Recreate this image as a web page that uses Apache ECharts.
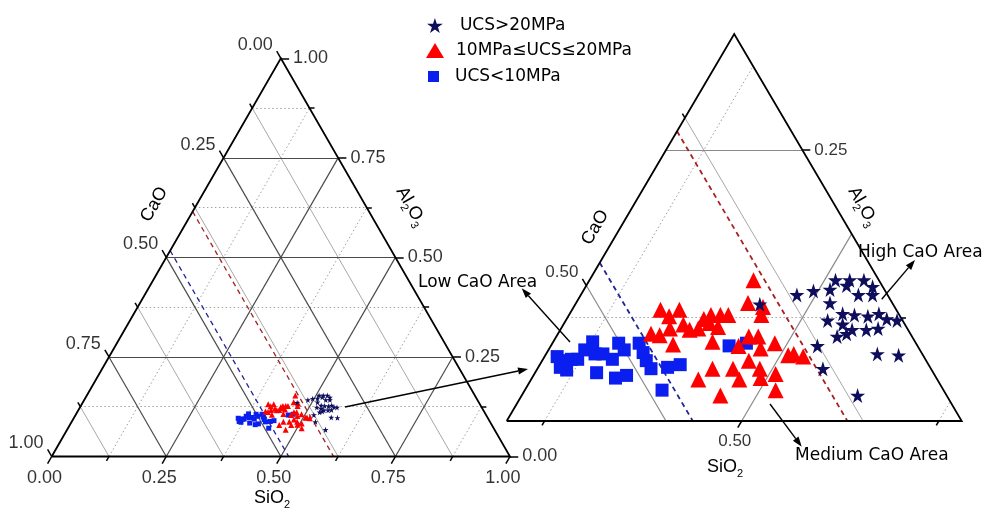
<!DOCTYPE html>
<html>
<head>
<meta charset="utf-8">
<script src="https://cdn.jsdelivr.net/npm/echarts@6/dist/echarts.min.js"></script>
<style>
html, body { margin: 0; padding: 0; background: #fff; }
#chart { width: 987px; height: 514px; }
</style>
</head>
<body>
<div id="chart"></div>
<script>
// compositions as [SiO2 %, Al2O3 %], CaO = 100 - SiO2 - Al2O3
const seriesNames = ['UCS>20MPa', '10MPa≤UCS≤20MPa', 'UCS<10MPa'];
const ucsHigh = [[46.8, 13.5], [48.8, 14.2], [49.7, 14.5], [50.7, 14.6], [50.7, 15.3], [51.6, 15.3],
    [52.5, 15.3], [52.7, 14.2], [53.6, 14.2], [51.2, 13.6], [51.6, 14.9], [51.7, 12.3], [52.8, 12.0],
    [53.2, 12.7], [54.1, 12.6], [54.7, 12.8], [55.4, 12.4], [56.1, 12.3], [53.4, 11.3], [53.6, 11.6],
    [52.9, 11.1], [54.5, 11.6], [55.2, 11.7], [52.4, 12.8], [52.0, 10.4], [53.2, 8.7], [56.1, 9.8],
    [57.5, 9.7], [56.4, 6.7], [53.3, 14.8]];
const ucsMid = [[40.7, 13.1], [41.5, 12.6], [41.9, 13.1], [42.7, 12.0], [43.3, 11.6], [43.8, 11.7],
    [42.0, 11.7], [41.6, 11.2], [42.8, 10.5], [44.1, 12.7], [44.7, 12.7], [45.2, 12.7], [44.3, 12.1],
    [45.0, 11.8], [43.8, 12.4], [45.2, 10.7], [47.0, 10.4], [47.3, 11.1], [47.9, 11.1], [49.2, 10.6],
    [48.5, 10.2], [48.2, 9.3], [47.5, 8.7], [46.2, 8.7], [49.2, 8.7], [50.4, 8.3], [45.7, 7.9],
    [48.3, 7.9], [49.6, 8.0], [51.0, 7.1], [47.7, 6.7], [45.5, 15.3], [46.0, 13.6], [47.1, 13.3],
    [47.3, 12.7], [50.5, 9.7], [50.8, 9.8], [51.5, 9.6], [41.0, 11.3]];
const ucsLow = [[35.9, 9.6], [36.4, 9.3], [36.5, 8.8], [37.0, 8.6], [37.3, 9.4], [37.4, 10.1],
    [37.6, 10.7], [38.2, 9.8], [38.7, 9.8], [39.5, 9.4], [39.3, 10.6], [39.9, 10.1], [39.0, 8.4],
    [40.4, 8.0], [41.0, 8.2], [40.6, 10.6], [41.2, 9.9], [41.7, 9.3], [42.3, 8.7], [43.8, 7.1],
    [43.3, 8.8], [44.0, 9.0], [46.4, 10.4], [47.4, 10.6], [36.9, 9.4]];
// ternary ticks, labelled every 0.25
const tickValues = [0, 0.125, 0.25, 0.375, 0.5, 0.625, 0.75, 0.875, 1];
// CaO levels of the dashed boundaries (blue: low/medium, red: medium/high)
const cutLow = 0.483;
const cutHigh = 0.385;

const H = Math.sqrt(3) / 2;
const STAR = 'path://M50,2L61.2,36.3L97.6,36.3L68.2,57.7L79.4,92.3L50,70.9L20.6,92.3L31.8,57.7L2.4,36.3L38.8,36.3Z';
const tickFont = '"Liberation Sans", Arial, sans-serif';
const textFont = '"DejaVu Sans", sans-serif';
const colors = ['#0e0e5c', '#ff0000', '#0a1ef0'];

// whole diagram and the zoomed part (SiO2 >= s0, Al2O3 >= a0, CaO >= c0)
const mainBox = { s0: 0, a0: 0, c0: 0, side: 1 };
const zoomBox = { s0: 0.351, a0: 0.048, c0: 0.3125, side: 0.2885 };

// ternary (SiO2, Al2O3) -> plane, SiO2 to the right, Al2O3 at the top
function xy(si, al) {
    return [si + al / 2, al * H];
}

function isMajor(v) {
    return Math.abs(v * 4 - Math.round(v * 4)) < 1e-9;
}

function inside(v, lo, side) {
    return v > lo + 1e-9 && v < lo + side - 1e-9;
}

function onEdge(v, lo, side) {
    return v >= lo - 1e-9 && v <= lo + side + 1e-9;
}

function buildGrid(b) {
    const major = [], minorSolid = [], minorDot = [];
    tickValues.forEach(v => {
        if (inside(v, b.a0, b.side)) {
            (isMajor(v) ? major : minorDot).push({ coords: [xy(b.s0, v), xy(1 - v - b.c0, v)] });
        }
        if (inside(v, b.c0, b.side)) {
            (isMajor(v) ? major : minorSolid).push({ coords: [xy(b.s0, 1 - v - b.s0), xy(1 - v - b.a0, b.a0)] });
        }
        if (inside(v, b.s0, b.side)) {
            (isMajor(v) ? major : minorDot).push({ coords: [xy(v, b.a0), xy(v, 1 - v - b.c0)] });
        }
    });
    return { major, minorSolid, minorDot };
}

function buildTicks(b, dMaj, dMin) {
    const ticks = [], left = [], right = [], bottom = [];
    tickValues.forEach(v => {
        const d = isMajor(v) ? dMaj : dMin;
        const name = v.toFixed(2);
        if (onEdge(v, b.c0, b.side)) {
            const al = 1 - b.s0 - v;
            const e = xy(b.s0 - d, al + d);
            ticks.push({ coords: [xy(b.s0, al), e] });
            if (isMajor(v)) left.push({ value: e, name });
        }
        if (onEdge(v, b.a0, b.side)) {
            const si = 1 - b.c0 - v;
            const e = xy(si + d, v);
            ticks.push({ coords: [xy(si, v), e] });
            if (isMajor(v)) right.push({ value: e, name });
        }
        if (onEdge(v, b.s0, b.side)) {
            const e = xy(v, b.a0 - d);
            ticks.push({ coords: [xy(v, b.a0), e] });
            if (isMajor(v)) bottom.push({ value: e, name });
        }
    });
    return { ticks, left, right, bottom };
}

function cutLine(b, ca) {
    return { coords: [xy(b.s0, 1 - ca - b.s0), xy(1 - ca - b.a0, b.a0)] };
}

function linesSeries(i, data, style, z) {
    return {
        type: 'lines', coordinateSystem: 'cartesian2d', xAxisIndex: i, yAxisIndex: i, clip: false,
        silent: true, z: z, data: data, lineStyle: Object.assign({ opacity: 1, curveness: 0 }, style)
    };
}

function labelSeries(i, data, position, offset, size) {
    return {
        type: 'scatter', xAxisIndex: i, yAxisIndex: i, symbolSize: 0, silent: true, z: 6, clip: false, data: data,
        label: {
            show: true, position: position, distance: 4, offset: offset, formatter: '{b}',
            color: '#000', fontSize: size, fontFamily: tickFont
        }
    };
}

function pointSeries(i, k, arr, size) {
    const symbols = [STAR, 'triangle', 'rect'];
    return {
        type: 'scatter', name: seriesNames[k], xAxisIndex: i, yAxisIndex: i, clip: false,
        symbol: symbols[k], symbolSize: size, z: 10 + (2 - k),
        itemStyle: { color: colors[k], opacity: 1 },
        data: arr.map(p => xy(p[0] / 100, p[1] / 100))
    };
}

function panel(i, b, opt) {
    const g = buildGrid(b);
    const t = buildTicks(b, opt.dMaj, opt.dMin);
    const frame = [{ coords: [xy(b.s0, b.a0), xy(b.s0 + b.side, b.a0), xy(b.s0, b.a0 + b.side), xy(b.s0, b.a0)] }];
    const out = [
        linesSeries(i, g.minorDot, { color: '#a0a0a0', width: 1, type: [1.5, 2.5] }, 1),
        linesSeries(i, g.minorSolid, { color: '#a8a8a8', width: 1 }, 1),
        linesSeries(i, g.major, { color: opt.majorColor, width: 1.2 }, 2),
        linesSeries(i, [cutLine(b, cutLow)], { color: '#23239a', width: opt.dashW, type: [5, 4] }, 3),
        linesSeries(i, [cutLine(b, cutHigh)], { color: '#a82020', width: opt.dashW, type: [5, 4] }, 3),
        Object.assign(linesSeries(i, frame, { color: '#000', width: 1.8 }, 4), { polyline: true }),
        linesSeries(i, t.ticks, { color: '#000', width: 1.5 }, 4),
        labelSeries(i, t.left, 'left', [0, -6], opt.font),
        labelSeries(i, t.right, 'right', [0, 0], opt.font),
        labelSeries(i, t.bottom, 'bottom', [-3, 1], opt.font)
    ];
    out.push(pointSeries(i, 2, ucsLow, opt.sizes[2]));
    out.push(pointSeries(i, 1, ucsMid, opt.sizes[1]));
    out.push(pointSeries(i, 0, ucsHigh, opt.sizes[0]));
    return out;
}

function arrow(x1, y1, x2, y2) {
    const a = Math.atan2(y2 - y1, x2 - x1), L = 10, W = 3.5;
    const bx = x2 - L * Math.cos(a), by = y2 - L * Math.sin(a);
    return [
        { type: 'line', z: 100, shape: { x1: x1, y1: y1, x2: bx, y2: by }, style: { stroke: '#000', lineWidth: 1.4 } },
        {
            type: 'polygon', z: 100,
            shape: { points: [[x2, y2], [bx - W * Math.sin(a), by + W * Math.cos(a)], [bx + W * Math.sin(a), by - W * Math.cos(a)]] },
            style: { fill: '#000' }
        }
    ];
}

function note(x, y, text) {
    return {
        type: 'text', x: x, y: y, z: 100,
        style: { text: text, font: '17px ' + textFont, fill: '#000', align: 'left', verticalAlign: 'middle' }
    };
}

const richTitle = {
    n: { fontSize: 18, fontFamily: tickFont, lineHeight: 20, verticalAlign: 'top', fill: '#000' },
    s: { fontSize: 11, fontFamily: tickFont, lineHeight: 12, padding: [10, 0, 0, 0], verticalAlign: 'top', fill: '#000' }
};

function title(x, y, text, rot) {
    return {
        type: 'text', x: x, y: y, rotation: rot, z: 100,
        style: { text: text, rich: richTitle, align: 'center', verticalAlign: 'middle' }
    };
}

const chart = echarts.init(document.getElementById('chart'));

const series = [].concat(
    panel(0, mainBox, { dMaj: 0.018, dMin: 0.011, font: 18, majorColor: '#4a4a4a', dashW: 1.3, sizes: [6, 6, 5] }),
    panel(1, zoomBox, { dMaj: 0.005, dMin: 0.0032, font: 17, majorColor: '#8a8a8a', dashW: 1.8, sizes: [15, 16, 13] })
);

function legendAt(k, left, top, w, h, icon, pad) {
    return {
        orient: 'vertical', left: left, top: top, itemWidth: w, itemHeight: h, selectedMode: false,
        data: [{ name: seriesNames[k], icon: icon }],
        textStyle: { fontSize: 17, fontFamily: textFont, color: '#000', padding: [0, 0, 0, pad] }
    };
}

chart.setOption({
    animation: false,
    backgroundColor: '#fff',
    legend: [
        legendAt(0, 422, 12, 16, 15, STAR, 12),
        legendAt(1, 421, 37, 18, 15, 'triangle', 7),
        legendAt(2, 423, 63, 11, 11, 'rect', 11)
    ],
    grid: [
        { left: 51.7, top: 58.3, width: 458.3, height: 398.2 },
        { left: 506.7, top: 34, width: 455, height: 387 }
    ],
    xAxis: [
        { gridIndex: 0, type: 'value', min: 0, max: 1, show: false },
        { gridIndex: 1, type: 'value', min: zoomBox.s0 + zoomBox.a0 / 2, max: zoomBox.s0 + zoomBox.a0 / 2 + zoomBox.side, show: false }
    ],
    yAxis: [
        { gridIndex: 0, type: 'value', min: 0, max: H, show: false },
        { gridIndex: 1, type: 'value', min: zoomBox.a0 * H, max: (zoomBox.a0 + zoomBox.side) * H, show: false }
    ],
    series: series,
    graphic: [].concat(
        title(155, 205, '{n|CaO}', Math.PI / 3),
        title(410, 207, '{n|Al}{s|2}{n|O}{s|3}', -Math.PI / 3),
        title(272, 499, '{n|SiO}{s|2}', 0),
        title(596, 228, '{n|CaO}', Math.PI / 3),
        title(862, 207, '{n|Al}{s|2}{n|O}{s|3}', -Math.PI / 3),
        title(725, 468, '{n|SiO}{s|2}', 0),
        note(418, 283, 'Low CaO Area'),
        note(858, 253, 'High CaO Area'),
        note(795, 456, 'Medium CaO Area'),
        arrow(345, 407, 528, 369),
        arrow(570, 342, 521.7, 288.3),
        arrow(881.7, 299.3, 915, 260),
        arrow(770, 404, 801.7, 446.7)
    )
});
</script>
</body>
</html>
